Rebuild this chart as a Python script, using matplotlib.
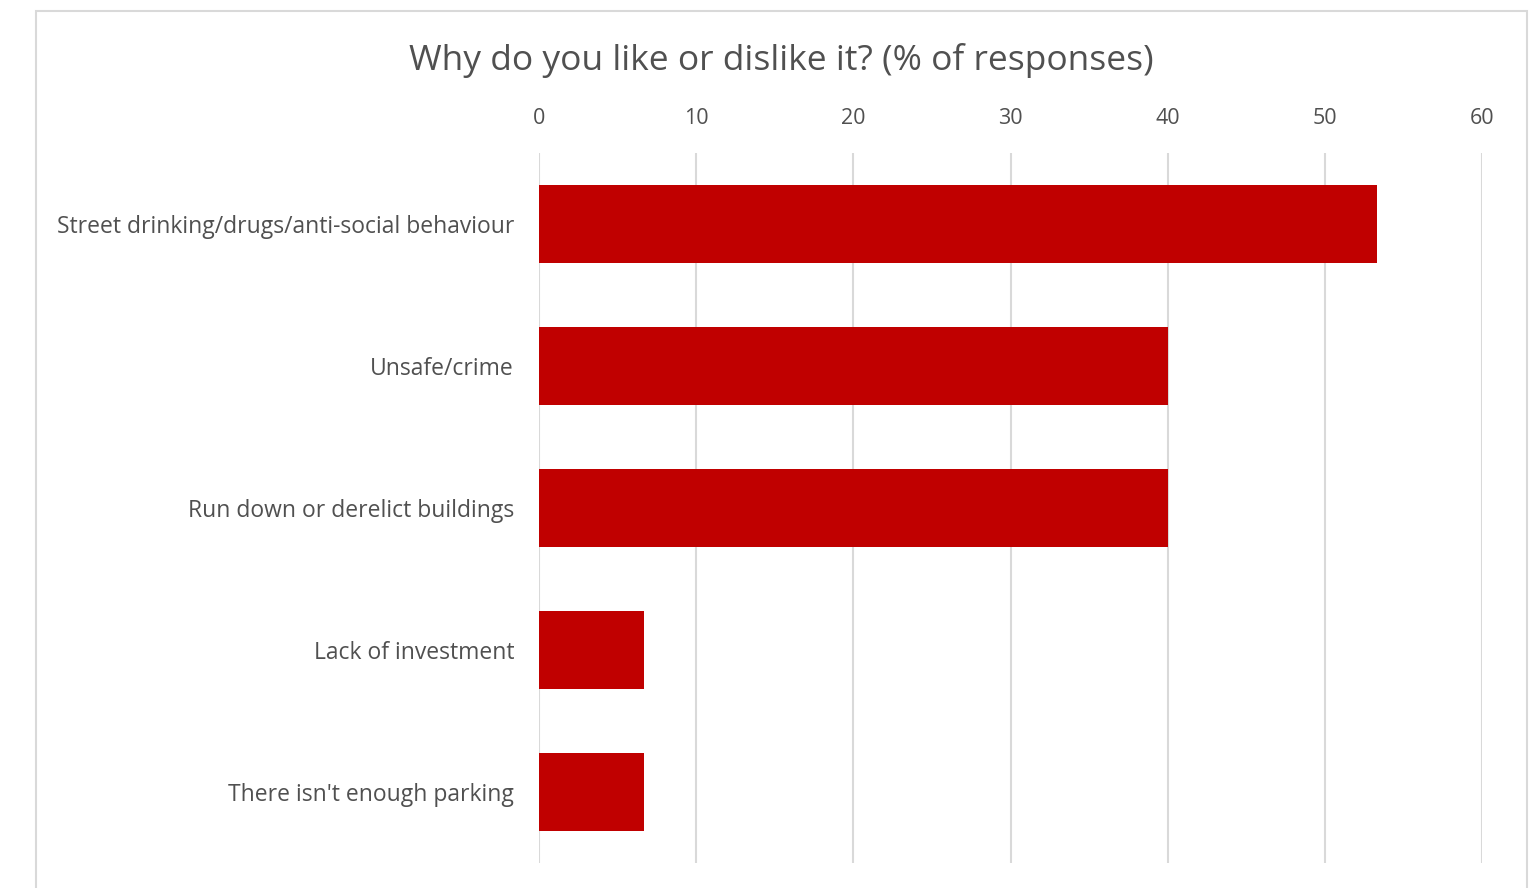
import matplotlib.pyplot as plt
from matplotlib.patches import Rectangle

categories = [
    "Street drinking/drugs/anti-social behaviour",
    "Unsafe/crime",
    "Run down or derelict buildings",
    "Lack of investment",
    "There isn't enough parking",
]
values = [53.3, 40.0, 40.0, 6.7, 6.7]
ticks = [0, 10, 20, 30, 40, 50, 60]

plt.rcParams["font.family"] = ["Open Sans", "DejaVu Sans"]
text_color = "#505050"

fig = plt.figure(figsize=(15.33, 8.88), dpi=100)

# light grey chart frame (bottom edge is cropped off in the reference)
frame = Rectangle((36 / 1533, -0.05), (1527 - 36) / 1533, 1.05 - 11 / 888,
                  transform=fig.transFigure, fill=False, edgecolor="#d9d9d9",
                  linewidth=1.5)
fig.patches.append(frame)

ax = fig.add_axes([539 / 1533, 1 - 863 / 888, (1482 - 539) / 1533, (863 - 153) / 888])

y = list(range(len(categories)))
ax.barh(y, values, height=0.55, color="#C00000", zorder=3)
ax.set_ylim(len(categories) - 0.5, -0.5)
ax.set_xlim(0, 60)

ax.set_xticks(ticks)
ax.xaxis.tick_top()
ax.tick_params(axis="x", length=0, pad=17, labelsize=15.5, labelcolor=text_color)
ax.set_yticks(y)
ax.set_yticklabels(categories)
ax.tick_params(axis="y", length=0, pad=18, labelsize=16.5, labelcolor=text_color)

ax.grid(axis="x", color="#d9d9d9", linewidth=1.5, zorder=0)
for s in ax.spines.values():
    s.set_visible(False)

fig.text(781 / 1533, 1 - 60 / 888, "Why do you like or dislike it? (% of responses)",
         ha="center", va="center", fontsize=25.5, color=text_color)

fig.savefig("out.png", dpi=100)
